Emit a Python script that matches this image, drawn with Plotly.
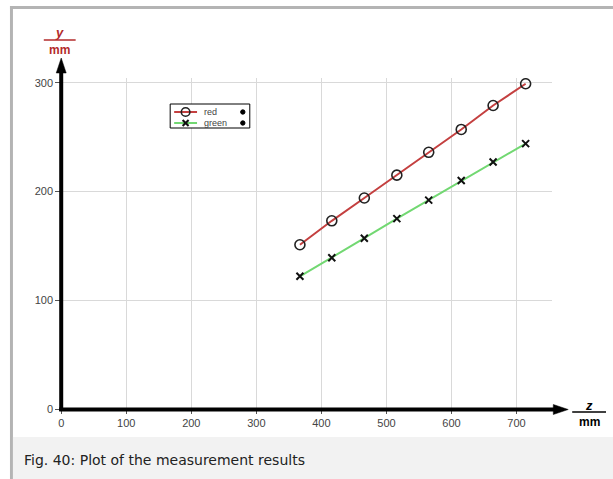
import plotly.graph_objects as go

# Measurement data: position z (mm) and the two measured y series (mm)
z_mm = [367, 416, 466, 516, 565, 615, 664, 714]
y_red = [151, 173, 194, 215, 236, 257, 279, 299]
y_green = [122, 139, 157, 175, 192, 210, 227, 244]

x_ticks = [0, 100, 200, 300, 400, 500, 600, 700]
y_ticks = [0, 100, 200, 300]
caption = "Fig. 40: Plot of the measurement results"

# layout is designed on a 613 x 479 grid and placed in paper fractions
W, H = 613, 479
FIG_H = 486
RED = "#c44040"
GREEN = "#72d872"
LABEL_RED = "#b32b2b"
FONT = "Liberation Sans, Arial, sans-serif"


def px(x):
    return x / W


def py(y):
    return 1 - y / H


fig = go.Figure()

fig.add_trace(go.Scatter(
    x=z_mm, y=y_red, mode="lines+markers", name="red",
    line=dict(color=RED, width=2),
    marker=dict(symbol="circle-open", size=10, color="#222",
                line=dict(color="#222", width=1.6)),
))
fig.add_trace(go.Scatter(
    x=z_mm, y=y_green, mode="lines+markers", name="green",
    line=dict(color=GREEN, width=2),
    marker=dict(symbol="x-thin-open", size=7, color="#111",
                line=dict(color="#111", width=2)),
))

shapes = []


def line(x0, y0, x1, y1, color="black", width=1, layer="above"):
    shapes.append(dict(type="line", xref="paper", yref="paper",
                       x0=px(x0), y0=py(y0), x1=px(x1), y1=py(y1),
                       line=dict(color=color, width=width), layer=layer))


def rect(x0, y0, x1, y1, fill, lc=None, lw=0, layer="below"):
    shapes.append(dict(type="rect", xref="paper", yref="paper",
                       x0=px(x0), y0=py(y0), x1=px(x1), y1=py(y1),
                       fillcolor=fill, line=dict(color=lc or fill, width=lw),
                       layer=layer))


def poly(points, fill="black"):
    d = "M " + " L ".join(f"{px(a)},{py(b)}" for a, b in points) + " Z"
    shapes.append(dict(type="path", xref="paper", yref="paper", path=d,
                       fillcolor=fill, line=dict(color=fill, width=0.5),
                       layer="above"))


def circle(cx, cy, r, lc="black", lw=1, fill="rgba(0,0,0,0)"):
    shapes.append(dict(type="circle", xref="paper", yref="paper",
                       x0=px(cx - r), y0=py(cy + r), x1=px(cx + r), y1=py(cy - r),
                       line=dict(color=lc, width=lw), fillcolor=fill,
                       layer="above"))


# page frame and caption strip
rect(7, 5, W, 8, "#b4b4b4")
rect(7, 5, 10, H, "#b4b4b4")
rect(10, 436, W, H, "#f2f2f2")

# thick axes with arrow heads
line(58.5, 410, 58.5, 70, width=4)
poly([(53.5, 72), (58.5, 57), (63.5, 72)])
line(56.5, 408.5, 555, 408.5, width=4)
poly([(553, 403.5), (568, 408.5), (553, 413.5)])

# fraction bars of the axis units
line(41, 39, 73, 39, color=LABEL_RED, width=1.5)
line(572, 411, 606, 411, color="black", width=1.5)

# legend box
rect(168, 103, 248, 127, "white", lc="black", lw=1, layer="above")
line(172, 111, 195, 111, color=RED, width=2)
circle(183.5, 111, 4.3, lc="#222", lw=1.6)
circle(241, 111, 2.2, lc="black", lw=1, fill="black")
line(172, 122, 195, 122, color=GREEN, width=2)
line(180.5, 119, 186.5, 125, color="#111", width=2)
line(180.5, 125, 186.5, 119, color="#111", width=2)
circle(241, 122, 2.2, lc="black", lw=1, fill="black")

annotations = [
    dict(text="<b><i>y</i></b>", x=px(57), y=py(31), font=dict(size=13, color=LABEL_RED)),
    dict(text="<b>mm</b>", x=px(57), y=py(49), font=dict(size=12, color=LABEL_RED)),
    dict(text="<b><i>z</i></b>", x=px(589), y=py(404), font=dict(size=13, color="black")),
    dict(text="<b>mm</b>", x=px(589), y=py(421), font=dict(size=12, color="black")),
    dict(text="red", x=px(200), y=py(111), xanchor="left", font=dict(size=9, color="#444")),
    dict(text="green", x=px(200), y=py(122), xanchor="left", font=dict(size=9, color="#444")),
    dict(text=caption, x=px(19), y=py(459), xanchor="left",
         font=dict(size=14, color="#222", family="DejaVu Sans, sans-serif")),
]
for a in annotations:
    a.update(xref="paper", yref="paper", showarrow=False)
    a.setdefault("xanchor", "center")
    a.setdefault("yanchor", "middle")

fig.update_layout(
    width=W, height=FIG_H, autosize=False,
    margin=dict(l=0, r=0, t=0, b=0, pad=0),
    paper_bgcolor="white", plot_bgcolor="white",
    showlegend=False,
    font=dict(family=FONT, size=11, color="#444"),
    shapes=shapes, annotations=annotations,
    xaxis=dict(domain=[px(58.5), px(552)], range=[0, 755],
               tickvals=x_ticks, ticks="outside", ticklen=4, tickcolor="#555",
               showgrid=True, gridcolor="#d9d9d9", gridwidth=1,
               zeroline=False, showline=False, fixedrange=True),
    yaxis=dict(domain=[py(408), py(77)], range=[0, 304.3],
               tickvals=y_ticks, ticks="outside", ticklen=5, tickcolor="#555",
               showgrid=True, gridcolor="#d9d9d9", gridwidth=1,
               zeroline=False, showline=False, fixedrange=True),
)

fig.write_html("out.html")
